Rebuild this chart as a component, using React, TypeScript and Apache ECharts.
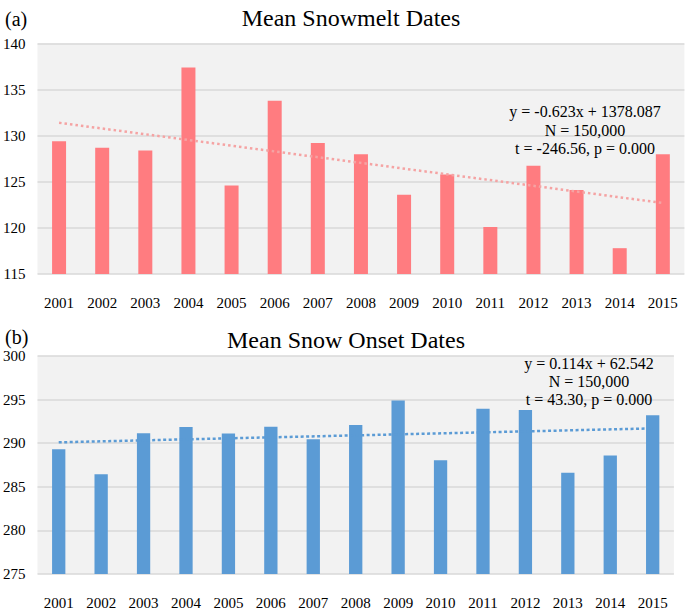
import React, { useEffect, useRef } from "react";
import * as echarts from "echarts";

const years = ["2001","2002","2003","2004","2005","2006","2007","2008","2009","2010","2011","2012","2013","2014","2015"];
const snowmelt = [129.4,128.7,128.4,137.4,124.6,133.8,129.2,128.0,123.6,125.8,120.1,126.75,124.1,117.8,128.0];
const onset = [289.3,286.45,291.15,291.85,291.1,291.9,290.45,292.1,294.9,288.05,293.95,293.8,286.6,288.6,293.2];
const meltTrend = [131.4, 122.7];
const onsetTrend = [290.1, 291.7];
const meltAxis = { min: 115, max: 140, interval: 5 };
const onsetAxis = { min: 275, max: 300, interval: 5 };
const titles = ["Mean Snowmelt Dates", "Mean Snow Onset Dates"];
const panelLabels = ["(a)", "(b)"];
const meltNote = ["y = -0.623x + 1378.087", "N = 150,000", "t = -246.56, p = 0.000"];
const onsetNote = ["y = 0.114x + 62.542", "N = 150,000", "t = 43.30, p = 0.000"];

const FONT = "'Liberation Serif', 'Times New Roman', serif";

export default function App() {
  const ref = useRef<HTMLDivElement>(null);
  useEffect(() => {
    document.body.style.margin = "0";
    const chart = echarts.init(ref.current!, null, { renderer: "svg" });
    const axisLabel = { color: "#000", fontFamily: FONT, fontSize: 15 };
    const splitLine = { show: true, lineStyle: { color: "#D9D9D9", width: 1.5 } };
    const noteText = (lines: string[], x: number, y: number) =>
      lines.map((t, i) => ({
        type: "text",
        x,
        y: y + i * 18.3,
        z: 100,
        style: { text: t, fill: "#000", font: `16px ${FONT}`, align: "center", verticalAlign: "middle" },
      }));
    const titleStyle = { fontFamily: FONT, fontSize: 24, fontWeight: "normal", color: "#000" };
    const panelStyle = { fontFamily: FONT, fontSize: 20, fontWeight: "normal", color: "#000" };
    chart.setOption({
      animation: false,
      backgroundColor: "#fff",
      title: [
        { text: titles[0], left: 346, top: 1, textAlign: "center", textStyle: titleStyle },
        { text: titles[1], left: 341, top: 323, textAlign: "center", textStyle: titleStyle },
        { text: panelLabels[0], left: 0, top: 4, textStyle: panelStyle },
        { text: panelLabels[1], left: 0, top: 322, textStyle: panelStyle },
      ],
      grid: [
        { left: 36.4, top: 43.5, width: 648, height: 230.5, show: true, backgroundColor: "#F2F2F2", borderWidth: 0 },
        { left: 36.4, top: 356, width: 637.5, height: 230, show: true, backgroundColor: "#F2F2F2", borderWidth: 0 },
      ],
      xAxis: [0, 1].map((i) => ({
        type: "category",
        gridIndex: i,
        data: years,
        axisLine: { show: false },
        axisTick: { show: false },
        axisLabel: { ...axisLabel, margin: 21 },
      })),
      yAxis: [meltAxis, onsetAxis].map((a, i) => ({
        type: "value",
        gridIndex: i,
        min: a.min,
        max: a.max,
        interval: a.interval,
        axisLine: { show: false },
        axisTick: { show: false },
        axisLabel: { ...axisLabel, margin: 12, align: "right" },
        splitLine,
      })),
      series: [
        {
          type: "bar",
          xAxisIndex: 0,
          yAxisIndex: 0,
          data: snowmelt,
          barWidth: 14,
          itemStyle: { color: "#FF7C80" },
          markLine: {
            silent: true,
            symbol: "none",
            label: { show: false },
            lineStyle: { color: "#F5A3A3", width: 2.5, type: [2.5, 3], cap: "butt" },
            data: [[{ coord: [years[0], meltTrend[0]] }, { coord: [years[years.length - 1], meltTrend[1]] }]],
          },
        },
        {
          type: "bar",
          xAxisIndex: 1,
          yAxisIndex: 1,
          data: onset,
          barWidth: 13.3,
          itemStyle: { color: "#5B9BD5" },
          markLine: {
            silent: true,
            symbol: "none",
            label: { show: false },
            lineStyle: { color: "#5B9BD5", width: 2.5, type: [3, 2.5], cap: "butt" },
            data: [[{ coord: [years[0], onsetTrend[0]] }, { coord: [years[years.length - 1], onsetTrend[1]] }]],
          },
        },
      ],
      graphic: [...noteText(meltNote, 585, 111.7), ...noteText(onsetNote, 589, 363.3)],
    });
    return () => chart.dispose();
  }, []);
  return <div ref={ref} style={{ width: 685, height: 610 }} />;
}
